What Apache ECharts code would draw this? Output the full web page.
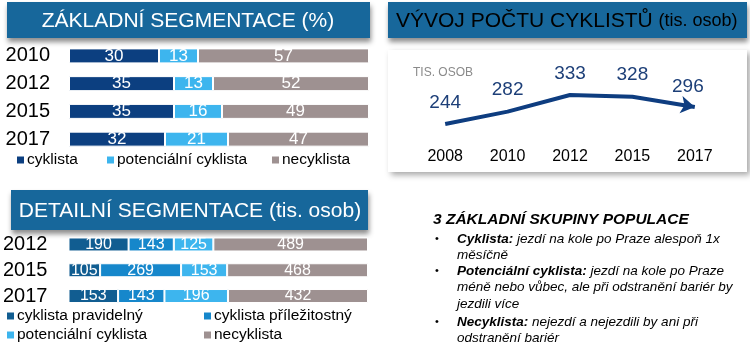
<!DOCTYPE html>
<html><head><meta charset="utf-8">
<script src="https://cdn.jsdelivr.net/npm/echarts@6/dist/echarts.min.js"></script>
<style>html,body{margin:0;padding:0;background:#fff}#c{width:750px;height:348px}</style>
</head><body><div id="c"></div><script>
// ---- data ----
const basicYears = ['2010', '2012', '2015', '2017'];
const basicCyklista = [30, 35, 35, 32];
const basicPotencialni = [13, 13, 16, 21];
const basicNecyklista = [57, 52, 49, 47];

const trendYears = ['2008', '2010', '2012', '2015', '2017'];
const trendValues = [244, 282, 333, 328, 296];

const detailYears = ['2012', '2015', '2017'];
const detailPravidelny = [190, 105, 153];
const detailPrilezitostny = [143, 269, 143];
const detailPotencialni = [125, 153, 196];
const detailNecyklista = [489, 468, 432];

// ---- styling ----
const FONT = '"Liberation Sans", Arial, sans-serif';
const C_HEAD = '#17679b';
const C_CYK = '#0c3f80';
const C_POT = '#3db5ee';
const C_NEC = '#9e9191';
const C_PRAV = '#115d91';
const C_PRIL = '#1687cb';
const C_LINE = '#0e3d80';

const detailTotals = detailYears.map((_, i) =>
  detailPravidelny[i] + detailPrilezitostny[i] + detailPotencialni[i] + detailNecyklista[i]);
const pct = arr => arr.map((v, i) => ({ value: v / detailTotals[i] * 100, raw: v }));

const barLabel = (size) => ({
  show: true, position: 'inside', color: '#fff', fontSize: size, fontFamily: FONT
});
const basicBar = (name, data, color) => ({
  name, type: 'bar', stack: 'basic', xAxisIndex: 0, yAxisIndex: 0, data,
  barWidth: 15, itemStyle: { color, borderColor: '#fff', borderWidth: 1 },
  label: barLabel(17), emphasis: { disabled: true }
});
const detailBar = (name, data, color) => ({
  name, type: 'bar', stack: 'detail', xAxisIndex: 1, yAxisIndex: 1, data: pct(data),
  barWidth: 14, itemStyle: { color, borderColor: '#fff', borderWidth: 1 },
  label: Object.assign(barLabel(16), { formatter: p => p.data.raw }),
  emphasis: { disabled: true }
});

const legendBase = (name, left, cy) => ({
  data: [name], left, top: cy - 9, padding: 0, icon: 'rect', itemWidth: 7, itemHeight: 7,
  selectedMode: false, itemStyle: { borderWidth: 0 },
  textStyle: { fontSize: 15.5, color: '#000', fontFamily: FONT, padding: [0, 0, 0, -2] }
});

const shadowRect = (x, y, w, h, fill, so) => ({
  type: 'rect', shape: { x, y, width: w, height: h },
  style: { fill, shadowBlur: so.blur, shadowOffsetX: so.ox, shadowOffsetY: so.oy, shadowColor: so.color },
  silent: true
});
const headShadow = { blur: 5, ox: 1, oy: 4, color: 'rgba(0,0,0,0.45)' };

const txt = (x, y, rich, text, extra) => ({
  type: 'text', x, y, silent: true,
  style: Object.assign({ text, rich, fontFamily: FONT, verticalAlign: 'middle' }, extra || {})
});
const bodyRich = {
  b: { fontSize: 13.5, fontWeight: 'bold', fontStyle: 'italic', fontFamily: FONT, color: '#000' },
  n: { fontSize: 13.5, fontStyle: 'italic', fontFamily: FONT, color: '#000' }
};

const chart = echarts.init(document.getElementById('c'), null, { renderer: 'canvas' });
chart.setOption({
  animation: false,
  backgroundColor: '#fff',
  textStyle: { fontFamily: FONT },
  grid: [
    { left: 69, width: 300, top: 42, height: 111 },
    { left: 66, width: 302, top: 231.6, height: 77.3 },
    { left: 414, width: 312, top: 89.5, height: 48.8 }
  ],
  xAxis: [
    { gridIndex: 0, type: 'value', min: 0, max: 100, show: false },
    { gridIndex: 1, type: 'value', min: 0, max: 100, show: false },
    { gridIndex: 2, type: 'category', data: trendYears, boundaryGap: true,
      axisLine: { show: false }, axisTick: { show: false },
      axisLabel: { color: '#000', fontSize: 16, margin: 10, fontFamily: FONT, interval: 0 } }
  ],
  yAxis: [
    { gridIndex: 0, type: 'category', data: basicYears, inverse: true,
      axisLine: { show: false }, axisTick: { show: false }, splitLine: { show: false },
      axisLabel: { color: '#000', fontSize: 20, margin: 19, fontFamily: FONT, interval: 0 } },
    { gridIndex: 1, type: 'category', data: detailYears, inverse: true,
      axisLine: { show: false }, axisTick: { show: false }, splitLine: { show: false },
      axisLabel: { color: '#000', fontSize: 20, margin: 21, fontFamily: FONT, interval: 0 } },
    { gridIndex: 2, type: 'value', min: 200, max: 350, show: false }
  ],
  legend: [
    legendBase('cyklista', 17, 161),
    legendBase('potenciální cyklista', 107, 161),
    legendBase('necyklista', 272, 161),
    legendBase('cyklista pravidelný', 7, 317),
    legendBase('cyklista příležitostný', 204, 317),
    legendBase('potenciální cyklista', 7, 336),
    legendBase('necyklista', 204, 336)
  ],
  series: [
    basicBar('cyklista', basicCyklista, C_CYK),
    basicBar('potenciální cyklista', basicPotencialni, C_POT),
    basicBar('necyklista', basicNecyklista, C_NEC),
    detailBar('cyklista pravidelný', detailPravidelny, C_PRAV),
    detailBar('cyklista příležitostný', detailPrilezitostny, C_PRIL),
    detailBar('potenciální cyklista', detailPotencialni, C_POT),
    detailBar('necyklista', detailNecyklista, C_NEC),
    {
      name: 'cyklisté', type: 'line', xAxisIndex: 2, yAxisIndex: 2,
      showSymbol: true, showAllSymbol: true,
      data: trendValues.map((v, i) => i === trendValues.length - 1
        ? { value: v, symbol: 'arrow', symbolSize: [13, 14], symbolRotate: -100, label: { distance: 0 } }
        : { value: v, symbol: 'circle', symbolSize: 0.1 }),
      lineStyle: { color: C_LINE, width: 4 }, itemStyle: { color: C_LINE },
      label: { show: true, position: 'top', distance: 12, color: '#1d3f78', fontSize: 19, fontFamily: FONT },
      labelLayout: { hideOverlap: false },
      emphasis: { disabled: true }, z: 5
    }
  ],
  graphic: [
    shadowRect(7, 2, 363, 36, C_HEAD, headShadow),
    shadowRect(388, 2, 359, 36, C_HEAD, headShadow),
    shadowRect(11, 190, 357, 40, C_HEAD, headShadow),
    Object.assign(shadowRect(388, 50, 359, 122, '#fff', { blur: 6, ox: 3, oy: 3, color: 'rgba(0,0,0,0.35)' }), { z: -10 }),
    txt(188, 21, null, 'ZÁKLADNÍ SEGMENTACE (%)', { fill: '#fff', fontSize: 21, align: 'center' }),
    txt(396, 21, {
      a: { fontSize: 21, color: '#fff', fontFamily: FONT },
      s: { fontSize: 18, color: '#fff', fontFamily: FONT }
    }, '{a|VÝVOJ POČTU CYKLISTŮ }{s|(tis. osob)}', { align: 'left' }),
    txt(190, 211, null, 'DETAILNÍ SEGMENTACE (tis. osob)', { fill: '#fff', fontSize: 21, align: 'center' }),
    txt(413, 73, null, 'TIS. OSOB', { fill: '#8a8a8a', fontSize: 12, align: 'left' }),
    txt(433, 220, null, '3 ZÁKLADNÍ SKUPINY POPULACE',
      { fill: '#000', fontSize: 15.5, fontWeight: 'bold', fontStyle: 'italic', align: 'left' }),
    txt(435, 239, null, '•', { fill: '#000', fontSize: 11, align: 'left' }),
    txt(435, 271, null, '•', { fill: '#000', fontSize: 11, align: 'left' }),
    txt(435, 322, null, '•', { fill: '#000', fontSize: 11, align: 'left' }),
    txt(457, 239, bodyRich, '{b|Cyklista:}{n| jezdí na kole po Praze alespoň 1x}'),
    txt(457, 255, bodyRich, '{n|měsíčně}'),
    txt(457, 271, bodyRich, '{b|Potenciální cyklista:}{n| jezdí na kole po Praze}'),
    txt(457, 287, bodyRich, '{n|méně nebo vůbec, ale při odstranění bariér by}'),
    txt(457, 304, bodyRich, '{n|jezdili více}'),
    txt(457, 322, bodyRich, '{b|Necyklista:}{n| nejezdí a nejezdili by ani při}'),
    txt(457, 338, bodyRich, '{n|odstranění bariér}')
  ]
});
</script></body></html>
